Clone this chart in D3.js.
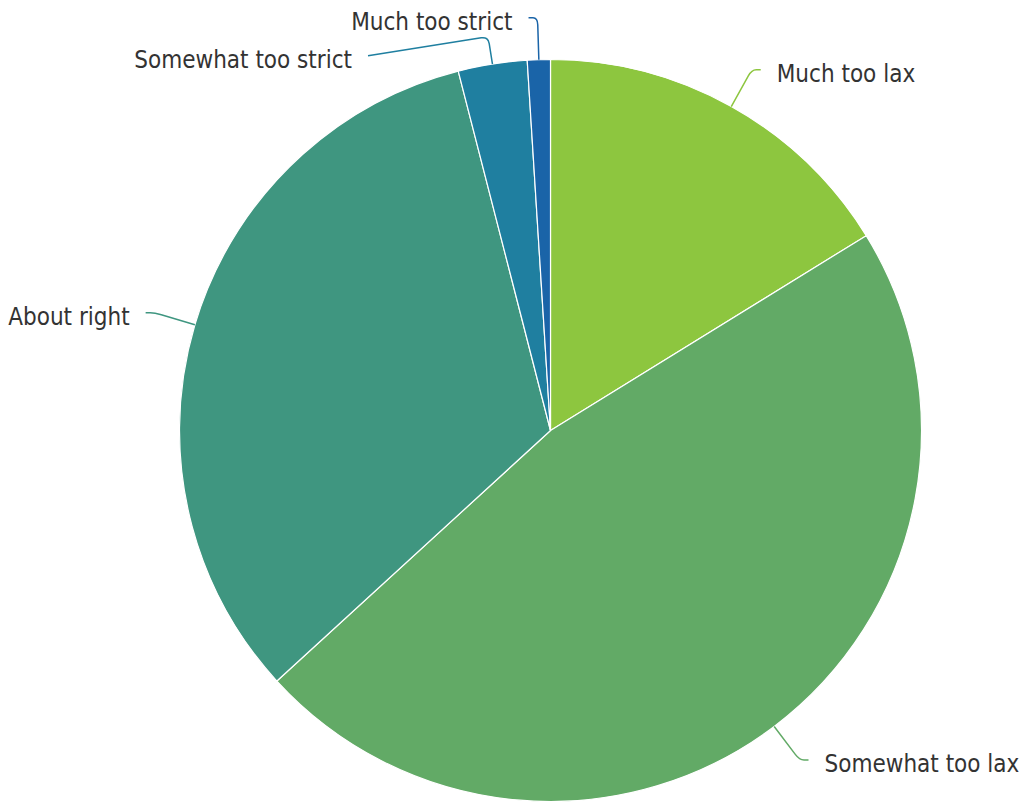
<!DOCTYPE html>
<html>
<head>
<meta charset="utf-8">
<script src="https://cdn.jsdelivr.net/npm/d3@7"></script>
<style>
  html, body { margin: 0; padding: 0; background: #fff; }
  svg { display: block; }
</style>
</head>
<body>
<svg id="chart" width="1027" height="802"></svg>
<script>
const categories = ["Much too lax", "Somewhat too lax", "About right", "Somewhat too strict", "Much too strict"];
const values = [16.2, 47.0, 32.8, 3.0, 1.0];
const colors = ["#8dc63f", "#62aa66", "#3f9680", "#1f7fa0", "#1a64a8"];

const W = 1027, H = 802;
const cx = 550.5, cy = 430.5, R = 371;
const len1 = 42, len2 = 9, textGap = 16, minGap = 38;

const svg = d3.select("#chart");
const g = svg.append("g").attr("transform", `translate(${cx},${cy})`);

const data = categories.map((c, i) => ({ name: c, value: values[i], color: colors[i] }));
const pie = d3.pie().value(d => d.value).sort(null);
const arcs = pie(data);
const arc = d3.arc().innerRadius(0).outerRadius(R);

g.selectAll("path.slice")
  .data(arcs)
  .join("path")
  .attr("class", "slice")
  .attr("d", arc)
  .attr("fill", d => d.data.color)
  .attr("stroke", "#fff")
  .attr("stroke-width", 1.2)
  .attr("stroke-linejoin", "round");

// label layout
const labels = arcs.map(a => {
  const mid = (a.startAngle + a.endAngle) / 2;
  const sx = Math.sin(mid), sy = -Math.cos(mid);
  const p0 = [R * sx, R * sy];
  const p1 = [(R + len1) * sx, (R + len1) * sy];
  const right = sx >= 0;
  return { a, mid, dir: [sx, sy], p0, p1, right, y: p1[1], moved: false };
});

// resolve overlaps per side (top to bottom)
["left", "right"].forEach(side => {
  const list = labels.filter(l => (side === "right") === l.right).sort((a, b) => a.y - b.y);
  for (let i = 1; i < list.length; i++) {
    if (list[i].y - list[i - 1].y < minGap) {
      list[i].y = list[i - 1].y + minGap;
      list[i].moved = true;
    }
  }
});

labels.forEach(l => {
  const dir = l.right ? 1 : -1;
  let bx = l.p1[0];
  if (l.moved) {
    const rr = R + len1;
    const dy = l.y;
    bx = dir * Math.sqrt(Math.max(0, rr * rr - dy * dy));
  }
  l.p2 = [bx + dir * len2, l.y];
  l.tx = l.p2[0] + dir * textGap;
  l.anchor = l.right ? "start" : "end";
  // limit turn angle to at least 90 degrees
  const v0 = [l.p0[0] - l.p1[0], l.p0[1] - l.p1[1]];
  const v2 = [l.p2[0] - l.p1[0], l.p2[1] - l.p1[1]];
  if (v0[0] * v2[0] + v0[1] * v2[1] > 0) {
    const t = (l.p2[0] - l.p0[0]) * l.dir[0] + (l.p2[1] - l.p0[1]) * l.dir[1];
    l.p1 = [l.p0[0] + t * l.dir[0], l.p0[1] + t * l.dir[1]];
  }
});

function leader(l) {
  const p = d3.path();
  const [x0, y0] = l.p0, [x1, y1] = l.p1, [x2, y2] = l.p2;
  const d01 = Math.hypot(x1 - x0, y1 - y0), d12 = Math.hypot(x2 - x1, y2 - y1);
  const k = 7;
  const a = [x1 - (x1 - x0) / d01 * Math.min(k, d01 / 2), y1 - (y1 - y0) / d01 * Math.min(k, d01 / 2)];
  const b = [x1 + (x2 - x1) / d12 * Math.min(k, d12 / 2), y1 + (y2 - y1) / d12 * Math.min(k, d12 / 2)];
  p.moveTo(x0, y0);
  p.lineTo(a[0], a[1]);
  p.quadraticCurveTo(x1, y1, b[0], b[1]);
  p.lineTo(x2, y2);
  return p.toString();
}

g.selectAll("path.leader")
  .data(labels)
  .join("path")
  .attr("class", "leader")
  .attr("d", leader)
  .attr("fill", "none")
  .attr("stroke", l => l.a.data.color)
  .attr("stroke-width", 1.5);

g.selectAll("text.label")
  .data(labels)
  .join("text")
  .attr("class", "label")
  .attr("x", l => l.tx)
  .attr("y", l => l.y)
  .attr("dy", 12)
  .attr("text-anchor", l => l.anchor)
  .attr("font-family", "'DejaVu Sans Condensed', 'DejaVu Sans', sans-serif")
  .attr("font-stretch", "condensed")
  .attr("font-size", 24)
  .attr("fill", "#333")
  .text(l => l.a.data.name);
</script>
</body>
</html>
